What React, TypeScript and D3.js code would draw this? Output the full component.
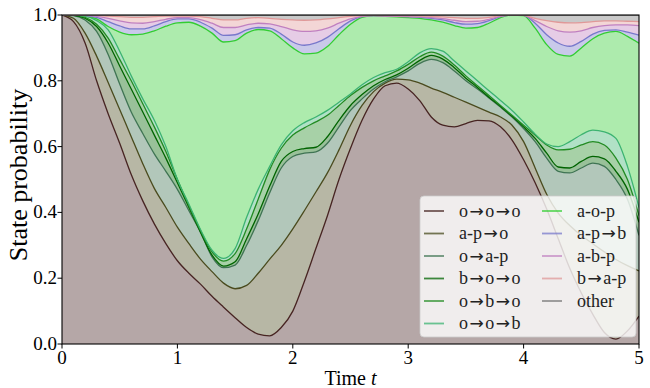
import React from "react";
import * as d3 from "d3";

// Sampling grid (time t)
const times = [
  0, 0.1, 0.2, 0.3, 0.4, 0.5, 0.6, 0.7, 0.8, 0.9,
  1.0, 1.1, 1.2, 1.3, 1.4, 1.5, 1.6, 1.7, 1.8, 1.9,
  2.0, 2.1, 2.2, 2.3, 2.4, 2.5, 2.6, 2.7, 2.8, 2.9,
  3.0, 3.1, 3.2, 3.3, 3.4, 3.5, 3.6, 3.7, 3.8, 3.9,
  4.0, 4.1, 4.2, 4.3, 4.4, 4.5, 4.6, 4.7, 4.8, 4.9,
  5.0,
];

// Cumulative (stacked) state probability up to and including each state
const cumOOO = [
  1.0, 0.98, 0.915, 0.8, 0.7, 0.61, 0.515, 0.435, 0.365, 0.305,
  0.253, 0.215, 0.182, 0.145, 0.112, 0.08, 0.05, 0.03, 0.025, 0.05,
  0.1, 0.19, 0.29, 0.39, 0.5, 0.595, 0.68, 0.745, 0.785, 0.793,
  0.775, 0.74, 0.69, 0.665, 0.66, 0.67, 0.68, 0.678, 0.66, 0.62,
  0.56, 0.49, 0.41, 0.32, 0.23, 0.155, 0.09, 0.035, 0.015, 0.04,
  0.085,
];
const cumAPO = [
  1.0, 0.99, 0.945, 0.875, 0.795, 0.713, 0.63, 0.548, 0.473, 0.415,
  0.355, 0.305, 0.258, 0.22, 0.185, 0.168, 0.178, 0.215, 0.258, 0.3,
  0.35, 0.405, 0.462, 0.52, 0.59, 0.665, 0.725, 0.767, 0.793, 0.805,
  0.803, 0.793, 0.778, 0.765, 0.75, 0.735, 0.72, 0.705, 0.69, 0.665,
  0.615, 0.535, 0.455, 0.398, 0.36, 0.33, 0.305, 0.28, 0.257, 0.238,
  0.222,
];
const cumOAP = [
  1.0, 0.998, 0.985, 0.95, 0.88, 0.79, 0.705, 0.64, 0.578, 0.525,
  0.47, 0.405, 0.34, 0.265, 0.232, 0.24, 0.3, 0.375, 0.46, 0.535,
  0.57, 0.58, 0.584, 0.61, 0.66, 0.71, 0.745, 0.775, 0.797, 0.812,
  0.83, 0.853, 0.865, 0.855, 0.83, 0.8, 0.775, 0.748, 0.72, 0.69,
  0.655, 0.615, 0.565, 0.525, 0.52, 0.535, 0.55, 0.54, 0.5, 0.44,
  0.33,
];
const cumBOO = [
  1.0, 0.999, 0.99, 0.965, 0.915, 0.845, 0.775, 0.705, 0.635, 0.565,
  0.49, 0.415, 0.34, 0.27, 0.237, 0.25, 0.32, 0.395, 0.48, 0.555,
  0.585, 0.594, 0.598, 0.63, 0.68, 0.725, 0.758, 0.785, 0.804, 0.818,
  0.838, 0.862, 0.877, 0.866, 0.84, 0.808, 0.78, 0.75, 0.722, 0.692,
  0.66, 0.625, 0.58, 0.538, 0.535, 0.555, 0.57, 0.563, 0.525, 0.47,
  0.37,
];
const cumOBO = [
  1.0, 1.0, 0.993, 0.972, 0.93, 0.865, 0.8, 0.73, 0.66, 0.585,
  0.5, 0.42, 0.345, 0.28, 0.252, 0.275, 0.35, 0.44, 0.53, 0.595,
  0.635, 0.657, 0.675, 0.695, 0.725, 0.755, 0.78, 0.8, 0.815, 0.83,
  0.85, 0.873, 0.887, 0.875, 0.848, 0.815, 0.785, 0.755, 0.725, 0.695,
  0.665, 0.635, 0.605, 0.59, 0.592, 0.605, 0.615, 0.605, 0.565, 0.5,
  0.39,
];
const cumOOB = [
  1.0, 1.0, 0.997, 0.983, 0.955, 0.89, 0.815, 0.745, 0.68, 0.6,
  0.5, 0.425, 0.348, 0.285, 0.26, 0.29, 0.385, 0.47, 0.54, 0.605,
  0.648, 0.673, 0.69, 0.71, 0.735, 0.76, 0.788, 0.81, 0.825, 0.835,
  0.858, 0.885, 0.898, 0.89, 0.86, 0.83, 0.8, 0.77, 0.74, 0.71,
  0.675, 0.638, 0.608, 0.6, 0.615, 0.636, 0.65, 0.645, 0.625, 0.54,
  0.415,
];
const cumAOP = [
  1.0, 1.0, 0.997, 0.988, 0.965, 0.948, 0.94, 0.942, 0.952, 0.966,
  0.976, 0.978, 0.966, 0.945, 0.918, 0.922, 0.945, 0.956, 0.952, 0.928,
  0.9, 0.882, 0.884, 0.904, 0.94, 0.972, 0.993, 0.998, 0.996, 0.994,
  0.992, 0.99, 0.985, 0.978, 0.968, 0.96, 0.962, 0.975, 0.992, 1.0,
  0.998, 0.96, 0.91, 0.88, 0.875, 0.9, 0.928, 0.945, 0.95, 0.935,
  0.914,
];
const cumAPB = [
  1.0, 1.0, 0.998, 0.993, 0.98, 0.967, 0.958, 0.958, 0.967, 0.98,
  0.988, 0.988, 0.978, 0.96, 0.938, 0.94, 0.955, 0.962, 0.96, 0.942,
  0.918, 0.908, 0.915, 0.932, 0.958, 0.982, 0.995, 0.998, 0.997, 0.996,
  0.995, 0.993, 0.99, 0.985, 0.977, 0.972, 0.974, 0.983, 0.995, 1.0,
  0.999, 0.975, 0.94, 0.915, 0.905, 0.92, 0.942, 0.953, 0.955, 0.948,
  0.939,
];
const cumABP = [
  1.0, 1.0, 0.999, 0.996, 0.99, 0.982, 0.976, 0.975, 0.98, 0.987,
  0.992, 0.992, 0.986, 0.975, 0.962, 0.962, 0.97, 0.975, 0.973, 0.965,
  0.955, 0.95, 0.952, 0.96, 0.975, 0.988, 0.996, 0.998, 0.997, 0.996,
  0.995, 0.994, 0.992, 0.989, 0.984, 0.98, 0.981, 0.987, 0.996, 1.0,
  0.999, 0.983, 0.965, 0.952, 0.948, 0.952, 0.962, 0.968, 0.97, 0.97,
  0.968,
];
const cumBAP = [
  1.0, 1.0, 1.0, 0.999, 0.997, 0.995, 0.993, 0.993, 0.995, 0.997,
  0.997, 0.997, 0.995, 0.99, 0.985, 0.985, 0.99, 0.992, 0.99, 0.987,
  0.985, 0.984, 0.985, 0.988, 0.992, 0.996, 0.998, 0.999, 0.998, 0.998,
  0.998, 0.997, 0.996, 0.994, 0.992, 0.99, 0.99, 0.993, 0.998, 1.0,
  0.999, 0.99, 0.983, 0.978, 0.976, 0.977, 0.98, 0.982, 0.982, 0.981,
  0.98,
];

const stateNames = [
  "o→o→o", "a-p→o", "o→a-p", "b→o→o", "o→b→o", "o→o→b",
  "a-o-p", "a-p→b", "a-b-p", "b→a-p", "other",
];
const stateColors = [
  "#472422", "#4a4b1e", "#3f7453", "#006400", "#228b22", "#3cb371",
  "#32cd32", "#7878cb", "#c080c0", "#e09898", "#777777",
];
const xTicks = [0, 1, 2, 3, 4, 5];
const yTicks = [0.0, 0.2, 0.4, 0.6, 0.8, 1.0];

const FONT = "'Liberation Serif', 'Times New Roman', serif";
const ARROW_FONT = "'DejaVu Sans', sans-serif";

function LegendLabel({ name, x, y }: { name: string; x: number; y: number }) {
  const parts = name.split("→");
  const nodes: React.ReactNode[] = [];
  parts.forEach((p, i) => {
    if (i > 0) {
      nodes.push(
        <tspan key={"a" + i} fontFamily={ARROW_FONT} fontSize={17} dx={1.5}>
          →
        </tspan>
      );
    }
    nodes.push(
      <tspan key={"p" + i} dx={i > 0 ? 1.5 : 0}>
        {p}
      </tspan>
    );
  });
  return (
    <text x={x} y={y} fontSize={18} fill="#222">
      {nodes}
    </text>
  );
}

export default function App() {
  const W = 650;
  const H = 388;
  const left = 62, right = 639, top = 15, bottom = 344;

  const x = d3.scaleLinear().domain([0, 5]).range([left, right]);
  const y = d3.scaleLinear().domain([0, 1]).range([bottom, top]);

  const zeros = times.map(() => 0);
  const ones = times.map(() => 1);
  const edges = [zeros, cumOOO, cumAPO, cumOAP, cumBOO, cumOBO, cumOOB, cumAOP, cumAPB, cumABP, cumBAP, ones];

  const bandPath = (lo: number[], hi: number[]) =>
    d3
      .area<number>()
      .x((_, i) => x(times[i]))
      .y0((_, i) => y(lo[i]))
      .y1((_, i) => y(hi[i]))
      .curve(d3.curveMonotoneX)(times) as string;

  const linePath = (v: number[]) =>
    d3
      .line<number>()
      .x((_, i) => x(times[i]))
      .y((_, i) => y(v[i]))
      .curve(d3.curveMonotoneX)(times) as string;

  const legendX = 420, legendY = 196, legendW = 216, legendH = 141;
  const rowY = (r: number) => 211 + r * 22.5;

  return (
    <svg
      width={W}
      height={H}
      viewBox={`0 0 ${W} ${H}`}
      style={{ position: "absolute", left: 0, top: 0, background: "#fff" }}
      fontFamily={FONT}
    >
      <defs>
        <clipPath id="plotClip">
          <rect x={left} y={top} width={right - left} height={bottom - top} />
        </clipPath>
      </defs>
      <g clipPath="url(#plotClip)">
        {stateNames.map((name, k) => (
          <path
            key={"band" + name}
            d={bandPath(edges[k], edges[k + 1])}
            fill={stateColors[k]}
            fillOpacity={0.4}
            stroke="none"
          />
        ))}
        {stateNames.map((name, k) => (
          <path
            key={"line" + name}
            d={linePath(edges[k + 1])}
            fill="none"
            stroke={stateColors[k]}
            strokeWidth={1.3}
          />
        ))}
      </g>

      {/* frame */}
      <rect x={left} y={top} width={right - left} height={bottom - top} fill="none" stroke="#000" strokeWidth={1.1} />

      {/* x ticks */}
      {xTicks.map((t) => (
        <g key={"xt" + t}>
          <line x1={x(t)} x2={x(t)} y1={bottom} y2={bottom + 4.5} stroke="#000" strokeWidth={1} />
          <text x={x(t)} y={bottom + 19.5} fontSize={19} textAnchor="middle" fill="#000">
            {t}
          </text>
        </g>
      ))}
      {/* y ticks */}
      {yTicks.map((v) => (
        <g key={"yt" + v}>
          <line x1={left - 4.5} x2={left} y1={y(v)} y2={y(v)} stroke="#000" strokeWidth={1} />
          <text x={left - 5} y={y(v) + 6} fontSize={19} textAnchor="end" fill="#000">
            {v.toFixed(1)}
          </text>
        </g>
      ))}

      {/* axis labels */}
      <text x={(left + right) / 2} y={385} fontSize={20} textAnchor="middle" fill="#000">
        Time <tspan fontStyle="italic">t</tspan>
      </text>
      <text
        transform={`translate(27, 175) rotate(-90)`}
        fontSize={26}
        textAnchor="middle"
        fill="#000"
      >
        State probability
      </text>

      {/* legend */}
      <rect
        x={legendX}
        y={legendY}
        width={legendW}
        height={legendH}
        rx={4}
        fill="#ffffff"
        fillOpacity={0.8}
        stroke="#cccccc"
        strokeOpacity={0.8}
        strokeWidth={1}
      />
      {stateNames.map((name, k) => {
        const col = k < 6 ? 0 : 1;
        const row = k < 6 ? k : k - 6;
        const hx = col === 0 ? 424 : 542;
        const tx = col === 0 ? 459 : 577;
        const ry = rowY(row);
        return (
          <g key={"leg" + name}>
            <line x1={hx} x2={hx + 20} y1={ry} y2={ry} stroke={stateColors[k]} strokeWidth={1.8} strokeOpacity={0.75} />
            <LegendLabel name={name} x={tx} y={ry + 5.5} />
          </g>
        );
      })}
    </svg>
  );
}
